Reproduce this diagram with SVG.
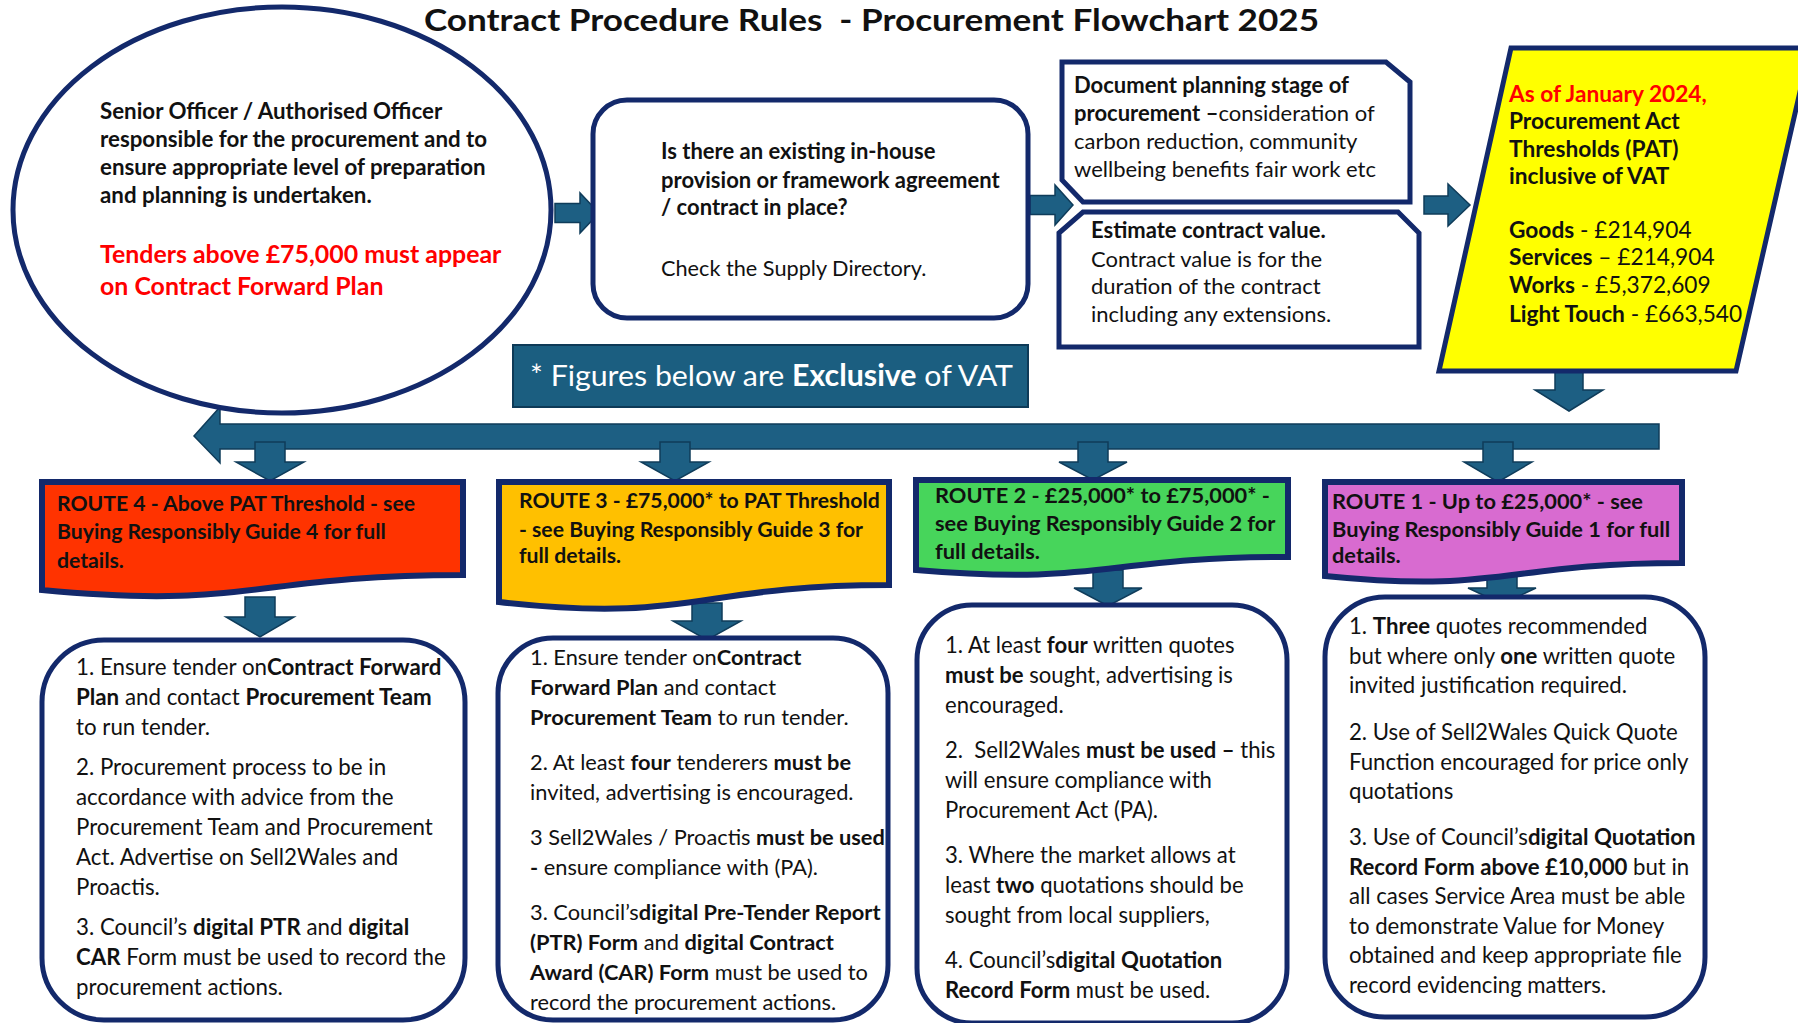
<svg xmlns="http://www.w3.org/2000/svg" width="1798" height="1023" viewBox="0 0 1798 1023">
<style>
.t{font-family:Lato,"Liberation Sans",sans-serif;fill:#111;}
.b{font-weight:700;}
.red{fill:#ff0000;}
.nv{fill:#fff;stroke:#13296b;stroke-width:5;}
.arr{fill:#1d5f83;stroke:#0f3c5a;stroke-width:1.5;}
.body{font-size:22.3px;}
.ban{font-weight:700;}
.ban-shape{stroke:#13296b;stroke-width:6;}
</style>
<rect width="1798" height="1023" fill="#fff"/>
<text id="title" class="t b" x="424" y="31" font-size="30" textLength="895" lengthAdjust="spacingAndGlyphs" xml:space="preserve">Contract Procedure Rules  - Procurement Flowchart 2025</text>

<g id="connectors">
<polygon class="arr" points="555,203.5 580,203.5 580,193 599,213 580,233 580,222.5 555,222.5"/>
<polygon class="arr" points="1030,195.5 1055,195.5 1055,185 1073,205 1055,225 1055,214.5 1030,214.5"/>
<polygon class="arr" points="1424,196 1448,196 1448,184 1470,205 1448,226 1448,214 1424,214"/>
<polygon class="arr" points="1555,370 1583,370 1583,390 1603,390 1569,411 1535,390 1555,390"/>
<path class="arr" d="M1659,424 H220 V407 L194,436 L220,463 V449 H1659 Z"/>
<polygon class="arr" points="255,442 285,442 285,462 304,462 270,481 236,462 255,462"/>
<polygon class="arr" points="660,442 690,442 690,462 709,462 675,481 641,462 660,462"/>
<polygon class="arr" points="1078,442 1108,442 1108,462 1127,462 1093,480 1059,462 1078,462"/>
<polygon class="arr" points="1483,442 1513,442 1513,462 1532,462 1498,482 1464,462 1483,462"/>
<polygon class="arr" points="245,597 275,597 275,617 294,617 260,637 226,617 245,617"/>
<polygon class="arr" points="692,603 722,603 722,621 741,621 707,640 673,621 692,621"/>
<polygon class="arr" points="1093,570 1123,570 1123,588 1142,588 1108,606 1074,588 1093,588"/>
<polygon class="arr" points="1487,573 1517,573 1517,588 1536,588 1502,604 1468,588 1487,588"/>
</g>

<g id="node-officer">
<ellipse class="nv" cx="282" cy="210" rx="269" ry="203"/>
<text class="t b" font-size="22.3"><tspan x="100" y="119">Senior Officer / Authorised Officer</tspan><tspan x="100" y="147">responsible for the procurement and to</tspan><tspan x="100" y="175">ensure appropriate level of preparation</tspan><tspan x="100" y="203">and planning is undertaken.</tspan></text>
<text class="t b red" font-size="24.9"><tspan x="100" y="263">Tenders above £75,000 must appear</tspan><tspan x="100" y="295">on Contract Forward Plan</tspan></text>
</g>

<g id="node-existing">
<rect class="nv" x="593" y="100" width="435" height="218" rx="34"/>
<text class="t b" font-size="22"><tspan x="661" y="159">Is there an existing in-house</tspan><tspan x="661" y="188">provision or framework agreement</tspan><tspan x="661" y="215">/ contract in place?</tspan></text>
<text class="t" font-size="21.7" x="661" y="276">Check the Supply Directory.</text>
</g>

<g id="node-planning">
<path class="nv" d="M1062,62 H1386 L1410,82 V202 H1083 L1062,180 Z"/>
<text class="t" font-size="22"><tspan x="1074" y="93" class="b">Document planning stage of</tspan><tspan x="1074" y="121"><tspan class="b">procurement –</tspan>consideration of</tspan><tspan x="1074" y="149">carbon reduction, community</tspan><tspan x="1074" y="177">wellbeing benefits fair work etc</tspan></text>
</g>

<g id="node-estimate">
<path class="nv" d="M1083,212 H1398 L1419,233 V347 H1059 V233 Z"/>
<text class="t" font-size="22"><tspan x="1091" y="238" class="b">Estimate contract value.</tspan><tspan x="1091" y="267">Contract value is for the</tspan><tspan x="1091" y="294">duration of the contract</tspan><tspan x="1091" y="322">including any extensions.</tspan></text>
</g>

<g id="node-thresholds">
<polygon points="1511,48 1810,48 1736,371 1439,371" fill="#ffff00" stroke="#13296b" stroke-width="5"/>
<text class="t b" font-size="22.7"><tspan x="1509" y="102" class="red">As of January 2024,</tspan><tspan x="1509" y="129">Procurement Act</tspan><tspan x="1509" y="157">Thresholds (PAT)</tspan><tspan x="1509" y="184">inclusive of VAT</tspan></text>
<text class="t" font-size="22.7"><tspan x="1509" y="238"><tspan class="b">Goods</tspan> - £214,904</tspan><tspan x="1509" y="265"><tspan class="b">Services</tspan> – £214,904</tspan><tspan x="1509" y="293"><tspan class="b">Works</tspan> - £5,372,609</tspan><tspan x="1509" y="322"><tspan class="b">Light Touch</tspan> - £663,540</tspan></text>
</g>

<g id="node-vat-note">
<rect x="513" y="345" width="515" height="62" fill="#1b5e80" stroke="#0e3a57" stroke-width="2"/>
<text class="t" font-size="29.5" x="530" y="386" textLength="483" lengthAdjust="spacingAndGlyphs" style="fill:#fff">* Figures below are <tspan class="b">Exclusive</tspan> of VAT</text>
</g>

<g id="node-route4">
<path class="ban-shape" fill="#ff3300" d="M42,482 H463 V575 C252,575 252,610 42,590 Z"/>
<text class="t ban" font-size="21.2"><tspan x="57" y="511">ROUTE 4 - Above PAT Threshold - see</tspan><tspan x="57" y="539">Buying Responsibly Guide 4 for full</tspan><tspan x="57" y="568">details.</tspan></text>
</g>
<g id="node-route3">
<path class="ban-shape" fill="#ffc000" d="M499,482 H889 V585 C694,585 694,624 499,602 Z"/>
<text class="t ban" font-size="21.2"><tspan x="519" y="508">ROUTE 3 - £75,000* to PAT Threshold</tspan><tspan x="519" y="537">- see Buying Responsibly Guide 3 for</tspan><tspan x="519" y="563">full details.</tspan></text>
</g>
<g id="node-route2">
<path class="ban-shape" fill="#47d55b" d="M916,480 H1288 V557 C1102,557 1102,586 916,570 Z"/>
<text class="t ban" font-size="21.8"><tspan x="935" y="503">ROUTE 2 - £25,000* to £75,000* -</tspan><tspan x="935" y="531">see Buying Responsibly Guide 2 for</tspan><tspan x="935" y="559">full details.</tspan></text>
</g>
<g id="node-route1">
<path class="ban-shape" fill="#d86bd0" d="M1325,482 H1682 V563 C1503,563 1503,594 1325,576 Z"/>
<text class="t ban" font-size="21.8"><tspan x="1332" y="509">ROUTE 1 - Up to £25,000* - see</tspan><tspan x="1332" y="537">Buying Responsibly Guide 1 for full</tspan><tspan x="1332" y="563">details.</tspan></text>
</g>

<g id="node-route4-steps">
<rect class="nv" x="42" y="640" width="423" height="380" rx="62"/>
<text class="t body" font-size="22.1">
<tspan x="76" y="675">1. Ensure tender on<tspan class="b">Contract Forward</tspan></tspan>
<tspan x="76" y="705"><tspan class="b">Plan</tspan> and contact <tspan class="b">Procurement Team</tspan></tspan>
<tspan x="76" y="735">to run tender.</tspan>
<tspan x="76" y="775">2. Procurement process to be in</tspan>
<tspan x="76" y="805">accordance with advice from the</tspan>
<tspan x="76" y="835">Procurement Team and Procurement</tspan>
<tspan x="76" y="865">Act. Advertise on Sell2Wales and</tspan>
<tspan x="76" y="895">Proactis.</tspan>
<tspan x="76" y="935">3. Council’s <tspan class="b">digital PTR</tspan> and <tspan class="b">digital</tspan></tspan>
<tspan x="76" y="965"><tspan class="b">CAR</tspan> Form must be used to record the</tspan>
<tspan x="76" y="995">procurement actions.</tspan>
</text>
</g>

<g id="node-route3-steps">
<rect class="nv" x="498" y="638" width="390" height="382" rx="55"/>
<text class="t" font-size="21.8">
<tspan x="530" y="665">1. Ensure tender on<tspan class="b">Contract</tspan></tspan>
<tspan x="530" y="695"><tspan class="b">Forward Plan</tspan> and contact</tspan>
<tspan x="530" y="725"><tspan class="b">Procurement Team</tspan> to run tender.</tspan>
<tspan x="530" y="770">2. At least <tspan class="b">four</tspan> tenderers <tspan class="b">must be</tspan></tspan>
<tspan x="530" y="800">invited, advertising is encouraged.</tspan>
<tspan x="530" y="845">3 Sell2Wales / Proactis <tspan class="b">must be used</tspan></tspan>
<tspan x="530" y="875"><tspan class="b">-</tspan> ensure compliance with (PA).</tspan>
<tspan x="530" y="920">3. Council’s<tspan class="b">digital Pre-Tender Report</tspan></tspan>
<tspan x="530" y="950"><tspan class="b">(PTR) Form</tspan> and <tspan class="b">digital Contract</tspan></tspan>
<tspan x="530" y="980"><tspan class="b">Award (CAR) Form</tspan> must be used to</tspan>
<tspan x="530" y="1010">record the procurement actions.</tspan>
</text>
</g>

<g id="node-route2-steps">
<rect class="nv" x="917" y="605" width="370" height="418" rx="55"/>
<text class="t" font-size="22.1" xml:space="preserve"><tspan x="945" y="653">1. At least <tspan class="b">four</tspan> written quotes</tspan><tspan x="945" y="683"><tspan class="b">must be</tspan> sought, advertising is</tspan><tspan x="945" y="713">encouraged.</tspan><tspan x="945" y="758">2.  Sell2Wales <tspan class="b">must be used –</tspan> this</tspan><tspan x="945" y="788">will ensure compliance with</tspan><tspan x="945" y="818">Procurement Act (PA).</tspan><tspan x="945" y="863">3. Where the market allows at</tspan><tspan x="945" y="893">least <tspan class="b">two</tspan> quotations should be</tspan><tspan x="945" y="923">sought from local suppliers,</tspan><tspan x="945" y="968">4. Council’s<tspan class="b">digital Quotation</tspan></tspan><tspan x="945" y="998"><tspan class="b">Record Form</tspan> must be used.</tspan></text>
</g>

<g id="node-route1-steps">
<rect class="nv" x="1325" y="597" width="380" height="420" rx="60"/>
<text class="t" font-size="22.2">
<tspan x="1349" y="634">1. <tspan class="b">Three</tspan> quotes recommended</tspan>
<tspan x="1349" y="663.5">but where only <tspan class="b">one</tspan> written quote</tspan>
<tspan x="1349" y="693">invited justification required.</tspan>
<tspan x="1349" y="740">2. Use of Sell2Wales Quick Quote</tspan>
<tspan x="1349" y="769.5">Function encouraged for price only</tspan>
<tspan x="1349" y="799">quotations</tspan>
<tspan x="1349" y="845">3. Use of Council’s<tspan class="b">digital Quotation</tspan></tspan>
<tspan x="1349" y="874.5"><tspan class="b">Record Form above £10,000</tspan> but in</tspan>
<tspan x="1349" y="904">all cases Service Area must be able</tspan>
<tspan x="1349" y="933.5">to demonstrate Value for Money</tspan>
<tspan x="1349" y="963">obtained and keep appropriate file</tspan>
<tspan x="1349" y="992.5">record evidencing matters.</tspan>
</text>
</g>
</svg>
